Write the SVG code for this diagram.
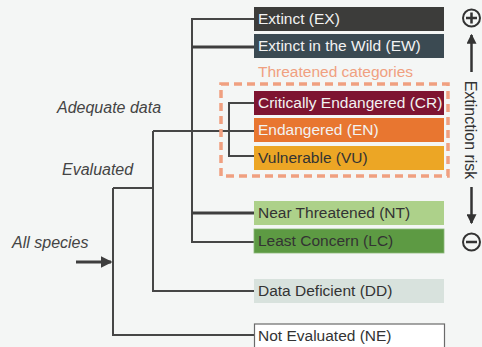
<svg xmlns="http://www.w3.org/2000/svg" width="482" height="347" viewBox="0 0 482 347">
<defs>
<style>
.bg{fill:#f4f6f5}
.ln{fill:none;stroke:#464646;stroke-width:2}
.thk{fill:none;stroke:#3e3e3e;stroke-width:3}
.lbl{font-family:"Liberation Sans",Arial,sans-serif;font-size:15.5px}
.it{font-family:"Liberation Sans",Arial,sans-serif;font-size:16px;font-style:italic;fill:#444}
.lt{fill:#f2f2f2}
.dk{fill:#333}
</style>
<marker id="ah" markerWidth="4" markerHeight="4" refX="3.5" refY="2" orient="auto" markerUnits="strokeWidth">
<path d="M0,0 L4,2 L0,4 Z" fill="#3e3e3e"/>
</marker>
<marker id="ah2" markerWidth="4" markerHeight="4" refX="3.5" refY="2" orient="auto" markerUnits="strokeWidth">
<path d="M0,0 L4,2 L0,4 Z" fill="#333"/>
</marker>
</defs>
<rect class="bg" x="0" y="0" width="482" height="347"/>

<g id="connectors">
<path class="ln" d="M113,188 V335 H254"/>
<path class="ln" d="M113,188 H153"/>
<path class="ln" d="M153,131 V291 H254"/>
<path class="ln" d="M153,131 H254"/>
<path class="ln" d="M254,19 H192 V242 H254"/>
<path class="thk" d="M192,47 H254"/>
<path class="thk" d="M192,213 H254"/>
<path class="ln" d="M254,103 H229 V156 H254"/>
<path class="thk" d="M76,262 H111" marker-end="url(#ah)"/>
</g>

<g id="threatened">
<rect x="221" y="84" width="227" height="92" fill="none" stroke="#f0a080" stroke-width="3.5" stroke-dasharray="8,5"/>
<text class="lbl" x="258" y="77" fill="#f0a080">Threatened categories</text>
</g>

<g id="EX"><rect x="254" y="7" width="190" height="24" fill="#3c3c3a"/><text class="lbl lt" x="258" y="24">Extinct (EX)</text></g>
<g id="EW"><rect x="254" y="34" width="190" height="24" fill="#3b4a52"/><text class="lbl lt" x="258" y="51">Extinct in the Wild (EW)</text></g>
<g id="CR"><rect x="254" y="91" width="190" height="24" fill="#7e1431"/><text class="lbl lt" x="258" y="108">Critically Endangered (CR)</text></g>
<g id="EN"><rect x="254" y="118" width="190" height="24" fill="#e87630"/><text class="lbl lt" x="258" y="135">Endangered (EN)</text></g>
<g id="VU"><rect x="254" y="146" width="190" height="24" fill="#eca625"/><text class="lbl dk" x="258" y="163">Vulnerable (VU)</text></g>
<g id="NT"><rect x="254" y="201" width="190" height="24" fill="#add18a"/><text class="lbl dk" x="258" y="218">Near Threatened (NT)</text></g>
<g id="LC"><rect x="254" y="229" width="190" height="24" fill="#5d9a43" stroke="#8cba78" stroke-width="0.8"/><text class="lbl dk" x="258" y="246">Least Concern (LC)</text></g>
<g id="DD"><rect x="254" y="279" width="190" height="24" fill="#d8e2dd"/><text class="lbl dk" x="258" y="296">Data Deficient (DD)</text></g>
<g id="NE"><rect x="254.5" y="324" width="190" height="24" fill="#ffffff" stroke="#6a6a6a" stroke-width="1.2"/><text class="lbl dk" x="258" y="341">Not Evaluated (NE)</text></g>

<g id="labels">
<text class="it" x="57" y="113">Adequate data</text>
<text class="it" x="62" y="175">Evaluated</text>
<text class="it" x="12" y="248">All species</text>
</g>

<g id="risk">
<circle cx="471.5" cy="18" r="8.5" fill="none" stroke="#333" stroke-width="2"/>
<path d="M466,18 H477 M471.5,12.5 V23.5" stroke="#333" stroke-width="2.5"/>
<path d="M471.5,72 V35" stroke="#333" stroke-width="2.5" marker-end="url(#ah2)"/>
<text class="lbl" transform="translate(465,130) rotate(90)" text-anchor="middle" fill="#333" style="font-size:16px">Extinction risk</text>
<path d="M471.5,187 V223" stroke="#333" stroke-width="2.5" marker-end="url(#ah2)"/>
<circle cx="471.5" cy="242" r="8.5" fill="none" stroke="#333" stroke-width="2"/>
<path d="M466,242 H477" stroke="#333" stroke-width="2.5"/>
</g>
</svg>
